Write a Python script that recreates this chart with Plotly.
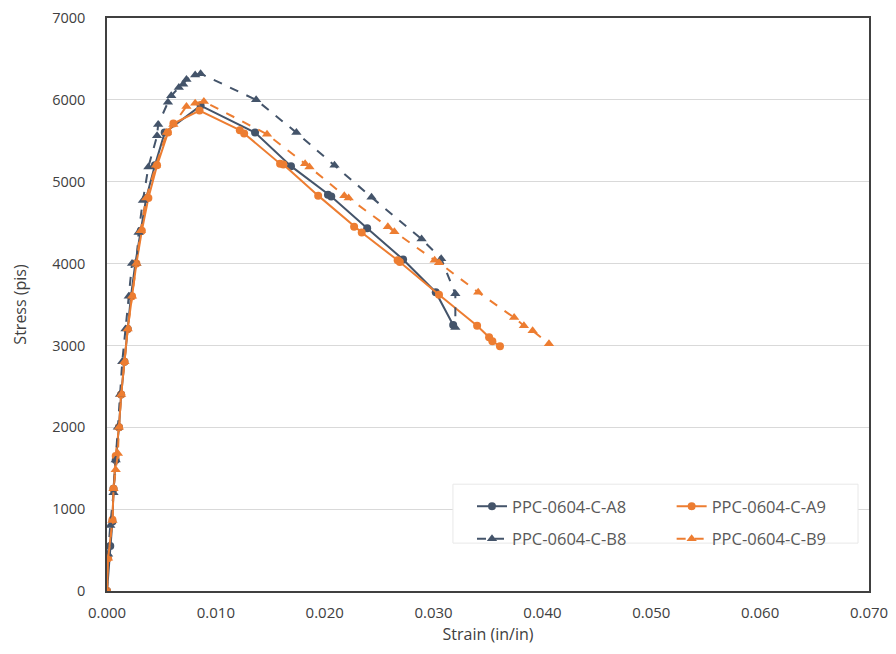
import plotly.graph_objects as go

# ---- data ----
a8_strain = [0, 0.0003, 0.0005, 0.0006, 0.0008, 0.0011, 0.0013, 0.0016, 0.0019, 0.0022, 0.0026, 0.0031, 0.0036,
             0.0044, 0.0053, 0.0086, 0.0136, 0.0169, 0.0203, 0.0206, 0.0239, 0.0272, 0.0302, 0.0318]
a8_stress = [0, 550, 850, 1250, 1600, 2000, 2400, 2800, 3200, 3600, 4000, 4400, 4800,
             5200, 5600, 5930, 5600, 5190, 4840, 4820, 4430, 4050, 3650, 3250]

a9_strain = [0, 0.0001, 0.0005, 0.0006, 0.0008, 0.0011, 0.0013, 0.0016, 0.0019, 0.0023, 0.0027, 0.0032, 0.0038,
             0.0046, 0.0056, 0.0061, 0.0085, 0.0122, 0.0126, 0.0159, 0.0162, 0.0194, 0.0227, 0.0234, 0.0267,
             0.0269, 0.0305, 0.0340, 0.0351, 0.0354, 0.0361]
a9_stress = [0, 400, 870, 1250, 1650, 2000, 2400, 2800, 3200, 3600, 4000, 4400, 4800,
             5200, 5600, 5710, 5870, 5630, 5590, 5220, 5210, 4830, 4450, 4380, 4040,
             4020, 3620, 3240, 3100, 3050, 2990]

b8_strain = [0, 0.0001, 0.0003, 0.0006, 0.0008, 0.0010, 0.0012, 0.0014, 0.0017, 0.0020, 0.0023, 0.0027, 0.0029,
             0.0033, 0.0038, 0.0046, 0.0047, 0.0056, 0.0059, 0.0066, 0.0070, 0.0073, 0.0081, 0.0086,
             0.0137, 0.0174, 0.0209, 0.0243, 0.0289, 0.0307, 0.0320, 0.0320]
b8_stress = [0, 450, 800, 1200, 1600, 2000, 2400, 2800, 3200, 3600, 4000, 4000, 4380,
             4770, 5180, 5560, 5700, 5970, 6050, 6150, 6190, 6250, 6305, 6320,
             6000, 5600, 5200, 4810, 4300, 4060, 3630, 3220]

b9_strain = [0, 0.0001, 0.0005, 0.0006, 0.0008, 0.0010, 0.0011, 0.0013, 0.0016, 0.0019, 0.0023, 0.0027, 0.0031,
             0.0036, 0.0045, 0.0055, 0.0061, 0.0073, 0.0081, 0.0089, 0.0147, 0.0182, 0.0186, 0.0218,
             0.0222, 0.0258, 0.0264, 0.0301, 0.0305, 0.0341, 0.0374, 0.0383, 0.0391, 0.0406]
b9_stress = [0, 400, 860, 1250, 1480, 1680, 2000, 2400, 2800, 3200, 3600, 4000, 4400,
             4800, 5200, 5600, 5700, 5920, 5960, 5980, 5580, 5220, 5180, 4830,
             4800, 4450, 4390, 4040, 4010, 3650, 3340, 3240, 3180, 3020]

x_ticks = [0.0, 0.01, 0.02, 0.03, 0.04, 0.05, 0.06, 0.07]
y_ticks = [0, 1000, 2000, 3000, 4000, 5000, 6000, 7000]

DARK = "#44546A"
ORANGE = "#ED7D31"
FONT = "Open Sans"

fig = go.Figure()
fig.add_trace(go.Scatter(x=a8_strain, y=a8_stress, name="PPC-0604-C-A8", mode="lines+markers",
                         legend="legend", legendgroup="a8",
                         line=dict(color=DARK, width=2), marker=dict(symbol="circle", size=8, color=DARK)))
fig.add_trace(go.Scatter(x=a9_strain, y=a9_stress, name="PPC-0604-C-A9", mode="lines+markers",
                         legend="legend2", legendgroup="a9",
                         line=dict(color=ORANGE, width=2), marker=dict(symbol="circle", size=8, color=ORANGE)))
fig.add_trace(go.Scatter(x=b8_strain, y=b8_stress, name="PPC-0604-C-B8", mode="lines+markers",
                         legend="legend", legendgroup="b8",
                         line=dict(color=DARK, width=2, dash="dash"),
                         marker=dict(symbol="triangle-up", size=9, color=DARK)))
fig.add_trace(go.Scatter(x=b9_strain, y=b9_stress, name="PPC-0604-C-B9", mode="lines+markers",
                         legend="legend2", legendgroup="b9",
                         line=dict(color=ORANGE, width=2, dash="dash"),
                         marker=dict(symbol="triangle-up", size=9, color=ORANGE)))

legend_common = dict(orientation="v", xanchor="left", yanchor="top", y=0.178,
                     bgcolor="rgba(0,0,0,0)", borderwidth=0,
                     font=dict(family=FONT, size=16.5, color="#595959"),
                     itemwidth=30, tracegroupgap=8, traceorder="grouped")

fig.update_layout(
    width=888, height=646,
    margin=dict(l=99, r=27, t=10, b=63, autoexpand=False),
    paper_bgcolor="white", plot_bgcolor="white",
    font=dict(family=FONT, color="#404040"),
    showlegend=True,
    legend=dict(x=0.479, **legend_common),
    legend2=dict(x=0.741, **legend_common),
    shapes=[dict(type="rect", xref="paper", yref="paper", x0=0.454, x1=0.9856, y0=0.0836, y1=0.1864,
                 fillcolor="white", line=dict(color="#e8e8e8", width=1), layer="above")],
)
fig.update_xaxes(range=[0, 0.07], tickvals=x_ticks, ticktext=[f"{v:.3f}" for v in x_ticks],
                 showgrid=False, zeroline=False, showline=True, linecolor="#404040", linewidth=1.5,
                 mirror=True, ticks="", ticklabelstandoff=7, ticklabeloverflow="allow",
                 tickfont=dict(family=FONT, size=15, color="#404040"),
                 title=dict(text="Strain (in/in)", font=dict(family=FONT, size=16, color="#404040"), standoff=8))
fig.update_yaxes(range=[0, 7000], tickvals=y_ticks, ticktext=[str(v) for v in y_ticks],
                 showgrid=True, gridcolor="#d9d9d9", gridwidth=1, zeroline=False,
                 showline=True, linecolor="#404040", linewidth=1.5, mirror=True, ticks="",
                 ticklabelstandoff=17, ticklabeloverflow="allow",
                 tickfont=dict(family=FONT, size=14.5, color="#404040"),
                 title=dict(text="Stress (pis)", font=dict(family=FONT, size=16, color="#404040"), standoff=22))

fig.write_html("out.html")
